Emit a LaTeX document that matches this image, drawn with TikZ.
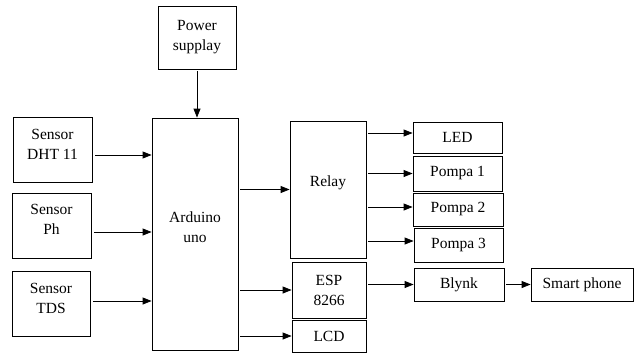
\documentclass[tikz,border=0pt]{standalone}
\usepackage{fontspec}
\setmainfont{Liberation Serif}
\usetikzlibrary{arrows.meta}

\begin{document}
\begin{tikzpicture}[x=1pt, y=-1pt,
  kotak/.style={draw, line width=0.8pt, align=center, inner sep=0pt,
    font=\fontsize{15.5}{20}\selectfont},
  naik/.style={text depth=#1},
  panah/.style={-{Triangle[length=9pt,width=7pt]}, line width=0.8pt, shorten <=2pt}]
  \useasboundingbox (0,0) rectangle (634,353);

  % catu daya dan arduino
  \node[kotak, minimum width=78pt, minimum height=63pt] (power) at (197,37.5) {Power\\supplay};
  \node[kotak, naik=14pt, minimum width=86pt, minimum height=232pt] (arduino) at (195,234) {Arduino\\uno};
  \draw[panah] (power.south) -- (power.south |- arduino.north);

  % sensor masukan
  \node[kotak, naik=11pt, minimum width=79pt, minimum height=65pt] (dht) at (52.5,149.5) {Sensor\\DHT 11};
  \node[kotak, naik=12pt, minimum width=79pt, minimum height=65pt] (ph) at (51.5,225.5) {Sensor\\Ph};
  \node[kotak, naik=11pt, minimum width=78pt, minimum height=65pt] (tds) at (51,303.5) {Sensor\\TDS};
  \draw[panah, shorten <=3pt] ([yshift=-5.5pt]dht.east) -- ([yshift=-5.5pt]dht.east -| arduino.west);
  \draw[panah, shorten <=3pt] ([yshift=-6.5pt]ph.east) -- ([yshift=-6.5pt]ph.east -| arduino.west);
  \draw[panah, shorten <=3pt] ([yshift=2.5pt]tds.east) -- ([yshift=2.5pt]tds.east -| arduino.west);

  % keluaran arduino
  \node[kotak, naik=17pt, minimum width=76pt, minimum height=137pt] (relay) at (328,189.5) {Relay};
  \node[kotak, minimum width=74pt, minimum height=56pt] (esp) at (329,290) {ESP\\8266};
  \node[kotak, minimum width=74pt, minimum height=32pt] (lcd) at (329,336) {LCD};
  \draw[panah] (relay.west -| arduino.east) -- (relay.west);
  \draw[panah] (esp.west -| arduino.east) -- (esp.west);
  \draw[panah] (lcd.west -| arduino.east) -- (lcd.west);

  % beban relay
  \node[kotak, minimum width=89pt, minimum height=31pt] (led) at (457.5,137.5) {LED};
  \node[kotak, minimum width=89pt, minimum height=35pt] (pompa1) at (457.5,173.5) {Pompa 1};
  \node[kotak, minimum width=90pt, minimum height=33pt] (pompa2) at (458,209.5) {Pompa 2};
  \node[kotak, minimum width=89pt, minimum height=34pt] (pompa3) at (458.5,245) {Pompa 3};
  \draw[panah] ([yshift=4.5pt]led.west -| relay.east) -- ([yshift=4.5pt]led.west);
  \draw[panah] (pompa1.west -| relay.east) -- (pompa1.west);
  \draw[panah] ([yshift=2.5pt]pompa2.west -| relay.east) -- ([yshift=2.5pt]pompa2.west);
  \draw[panah] ([yshift=4pt]pompa3.west -| relay.east) -- ([yshift=4pt]pompa3.west);

  % aplikasi
  \node[kotak, minimum width=90pt, minimum height=33pt] (blynk) at (459,284.5) {Blynk};
  \node[kotak, minimum width=102pt, minimum height=33pt] (hp) at (582,284.5) {Smart phone};
  \draw[panah] (blynk.west -| esp.east) -- (blynk.west);
  \draw[panah] (blynk.east) -- (hp.west);
\end{tikzpicture}
\end{document}
